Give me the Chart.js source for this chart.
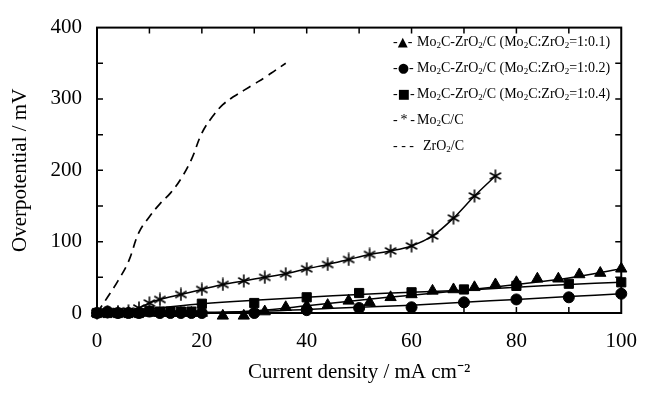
<!DOCTYPE html>
<html lang="en">
<head>
    <meta charset="UTF-8">
    <title>Overpotential vs current density</title>
    <style>
        body { margin: 0; background: #fff; }
        .wrap { position: relative; width: 653px; height: 393px; }
        .legend {
            position: absolute; left: 393px; top: 29px;
            font-family: "Liberation Serif", "Times New Roman", serif;
            font-size: 14px; color: #000; line-height: 26px; white-space: nowrap;
        }
        .legend .sym { display: inline-block; width: 24px; white-space: nowrap; }
        .legend .mk { font-family: "DejaVu Sans", sans-serif; font-size: 13px; }
        .legend sub { font-size: 9px; vertical-align: -2px; line-height: 0; }
    </style>
</head>
<body>
    <div class="wrap">
        <canvas id="chart" width="653" height="393"></canvas>
        <div class="legend">
            <div><span class="sym">-<span class="mk">▲</span>-</span>Mo<sub>2</sub>C-ZrO<sub>2</sub>/C (Mo<sub>2</sub>C:ZrO<sub>2</sub>=1:0.1)</div>
            <div><span class="sym">-<span class="mk">●</span>-</span>Mo<sub>2</sub>C-ZrO<sub>2</sub>/C (Mo<sub>2</sub>C:ZrO<sub>2</sub>=1:0.2)</div>
            <div><span class="sym">-<span class="mk">■</span>-</span>Mo<sub>2</sub>C-ZrO<sub>2</sub>/C (Mo<sub>2</sub>C:ZrO<sub>2</sub>=1:0.4)</div>
            <div><span class="sym">-&thinsp;*&thinsp;-</span>Mo<sub>2</sub>C/C</div>
            <div><span class="sym" style="width:30px">- - -</span>ZrO<sub>2</sub>/C</div>
        </div>
    </div>

    <script src="https://cdn.jsdelivr.net/npm/chart.js"></script>
    <script>
        // data (x: mA cm-2, y: mV)
        const triX = [0, 2, 4, 6, 8, 10, 12, 14, 16, 18, 20, 24, 28, 32, 36, 40, 44, 48, 52, 56, 60, 64, 68, 72, 76, 80, 84, 88, 92, 96, 100];
        const triY = [0, 0, 0, 0, 0, 0, 0, 0, 0, 0, 0, -4, -4, 2, 8, 10, 11, 17, 15, 22, 26, 31, 33, 36, 40, 43, 48, 48, 54, 56, 62];

        const cirX = [0, 2, 4, 6, 8, 10, 12, 14, 16, 18, 20, 30, 40, 50, 60, 70, 80, 90, 100];
        const cirY = [0, 2, 0, 0, 0, 2, 0, 0, 0, 0, 0, 0, 4, 7, 8, 15, 19, 22, 27];

        const sqX = [0, 2, 4, 6, 8, 10, 12, 14, 16, 18, 20, 30, 40, 50, 60, 70, 80, 90, 100];
        const sqY = [0, 0, 0, 0, 0, 3, 2, 2, 2, 2, 13, 14, 22, 28, 29, 33, 38, 41, 43];

        const moX = [0, 2, 4, 6, 8, 10, 12, 16, 20, 24, 28, 32, 36, 40, 44, 48, 52, 56, 60, 64, 68, 72, 76];
        const moY = [0, 1, 2, 3, 7, 14, 19, 26, 33, 40, 45, 50, 55, 62, 68, 75, 82, 87, 94, 108, 133, 164, 192];

        const zrX = [0, 2, 4, 6, 8, 10, 12, 14, 16, 18, 20, 22, 24, 26, 28, 30, 32, 34, 36];
        const zrY = [0, 22, 45, 72, 113, 135, 153, 168, 188, 215, 252, 275, 292, 303, 312, 321, 330, 340, 350];

        // smooth fit curves drawn through the marker clouds
        const fitTriX = [20, 30, 40, 50, 60, 70, 80, 90, 100];
        const fitTriY = [-1, 3, 10, 18, 25, 32, 40, 49, 62];
        const fitCirX = [0, 20, 30, 40, 50, 60, 70, 80, 90, 100];
        const fitCirY = [0, 1, 2, 5, 8, 11, 15, 19, 23, 27];
        const fitSqX = [0, 10, 20, 30, 40, 50, 60, 70, 80, 90, 100];
        const fitSqY = [1, 6, 13, 18, 22, 26, 29, 32, 36, 40, 43];

        const pts = (xs, ys) => xs.map((x, i) => ({ x: x, y: ys[i] }));

        // six-armed asterisk marker
        function asterisk(size) {
            const c = document.createElement('canvas');
            c.width = c.height = size;
            const g = c.getContext('2d');
            g.strokeStyle = '#000';
            g.lineWidth = 1.6;
            const r = size / 2 - 0.5;
            [90, 30, 150].forEach(a => {
                const t = a * Math.PI / 180;
                g.beginPath();
                g.moveTo(size / 2 - r * Math.cos(t), size / 2 - r * Math.sin(t));
                g.lineTo(size / 2 + r * Math.cos(t), size / 2 + r * Math.sin(t));
                g.stroke();
            });
            return c;
        }

        // box + inward ticks
        const frame = {
            id: 'frame',
            beforeDatasetsDraw(chart) {
                const { ctx, chartArea: { left, right, top, bottom }, scales: { x, y } } = chart;
                ctx.save();
                ctx.strokeStyle = '#000';
                ctx.lineWidth = 1.5;
                ctx.beginPath();
                for (let v = 10; v < 100; v += 10) {
                    const px = x.getPixelForValue(v);
                    ctx.moveTo(px, bottom); ctx.lineTo(px, bottom - 6);
                    ctx.moveTo(px, top); ctx.lineTo(px, top + 6);
                }
                for (let v = 50; v < 400; v += 50) {
                    const py = y.getPixelForValue(v);
                    ctx.moveTo(left, py); ctx.lineTo(left + 6, py);
                    ctx.moveTo(right, py); ctx.lineTo(right - 6, py);
                }
                ctx.stroke();
                ctx.lineWidth = 2;
                ctx.strokeRect(left, top, right - left, bottom - top);
                ctx.restore();
            }
        };

        const serif = '"Liberation Serif", "Times New Roman", serif';
        const fitLine = { showLine: true, pointRadius: 0, borderColor: '#000', borderWidth: 1.5, tension: 0.4, clip: false };
        const markers = { showLine: false, borderColor: '#000', backgroundColor: '#000', clip: false };

        new Chart(document.getElementById('chart'), {
            type: 'scatter',
            data: {
                datasets: [
                    Object.assign({ data: pts(fitTriX, fitTriY) }, fitLine),
                    Object.assign({ data: pts(fitCirX, fitCirY) }, fitLine),
                    Object.assign({ data: pts(fitSqX, fitSqY) }, fitLine),
                    Object.assign({ data: pts(triX, triY), pointStyle: 'triangle', pointRadius: 6.5 }, markers),
                    Object.assign({ data: pts(cirX, cirY), pointStyle: 'circle', pointRadius: 5.5 }, markers),
                    Object.assign({ data: pts(sqX, sqY), pointStyle: 'rect', pointRadius: 6.5 }, markers),
                    {
                        data: pts(moX, moY), showLine: true, tension: 0.3, borderColor: '#000', borderWidth: 1.5,
                        pointStyle: asterisk(14), pointRadius: 7, clip: false
                    },
                    {
                        data: pts(zrX, zrY), showLine: true, tension: 0.4, borderColor: '#000', borderWidth: 1.7,
                        borderDash: [9, 6], pointRadius: 0, clip: false
                    }
                ]
            },
            options: {
                responsive: false,
                animation: false,
                layout: { padding: { top: 21, right: 17, left: 0, bottom: 0 } },
                plugins: { legend: { display: false }, tooltip: { enabled: false } },
                scales: {
                    x: {
                        type: 'linear', min: 0, max: 100,
                        grid: { display: false, drawTicks: false },
                        border: { display: false },
                        ticks: { stepSize: 20, padding: 16, color: '#000', font: { family: serif, size: 21 } },
                        title: {
                            display: true, text: 'Current density / mA cm⁻²', color: '#000',
                            font: { family: serif, size: 21 }, padding: { top: 0, bottom: 8 }
                        },
                        afterFit(scale) { scale.height = 80; }
                    },
                    y: {
                        type: 'linear', min: 0, max: 400,
                        grid: { display: false, drawTicks: false },
                        border: { display: false },
                        ticks: { stepSize: 100, padding: 15, color: '#000', font: { family: serif, size: 21 } },
                        title: {
                            display: true, text: 'Overpotential / mV', color: '#000',
                            font: { family: serif, size: 21 }, padding: { top: 8, bottom: 0 }
                        },
                        afterFit(scale) { scale.width = 97; }
                    }
                }
            },
            plugins: [frame]
        });
    </script>
</body>
</html>
